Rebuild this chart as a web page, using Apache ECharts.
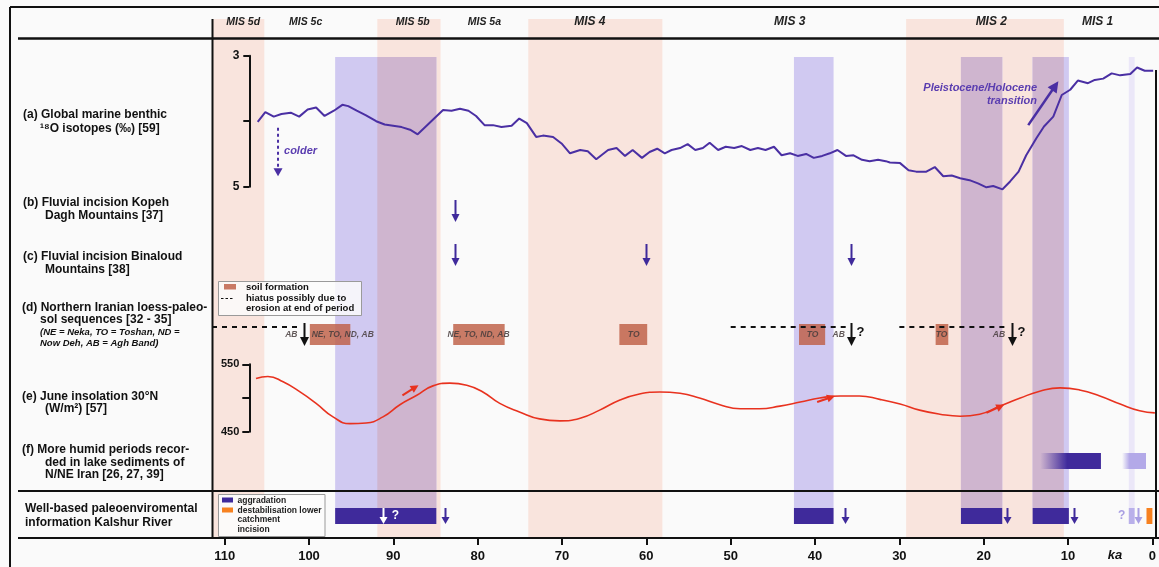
<!DOCTYPE html>
<html><head><meta charset="utf-8">
<script src="https://cdn.jsdelivr.net/npm/echarts@6/dist/echarts.min.js"></script>
<style>html,body{margin:0;padding:0;background:#fafafa}#c{width:1159px;height:567px}</style>
</head><body><div id="c"></div>
<script>
// ================= DATA (ages in ka before present) =================
const xTickValues = [0,10,20,30,40,50,60,70,80,90,100,110];
const misLabels = ['MIS 5d','MIS 5c','MIS 5b','MIS 5a','MIS 4','MIS 3','MIS 2','MIS 1'];
const misLabelKa = [107.8,100.4,87.7,79.2,66.7,43.0,19.1,6.5];
const misGlacialBands = [[111.5,105.3],[91.9,84.4],[74.0,58.1],[29.2,10.5]];
const aggradationPeriods = [[96.9,84.9],[42.5,37.8],[22.7,17.8],[14.2,9.9]];
const uncertainAggradation = [[2.8,2.1]];
const destabilisationPeriods = [[0.7,0]];
const kalshurIncisionKa = [83.9,36.4,17.2,9.3];
const kalshurIncisionInBarKa = [91.2];
const kalshurUncertainIncisionKa = [1.7];
const benthicD18O = [[106.1,4.01],[105.2,3.86],[104.2,3.93],[103.3,3.89],[102.2,3.87],[101.2,3.93],[100.2,3.82],[99.2,3.79],[98.2,3.92],[97.1,3.84],[96.1,3.75],[95.4,3.77],[94.4,3.84],[93.3,3.91],[92.1,4.00],[91.1,4.05],[90.1,4.07],[89.1,4.09],[88.1,4.13],[87.2,4.20],[84.2,3.83],[83.2,3.84],[82.2,3.81],[81.2,3.84],[80.3,3.92],[79.3,4.06],[78.3,4.06],[77.3,4.09],[76.1,4.07],[75.2,3.96],[74.3,4.03],[73.2,4.24],[72.4,4.22],[71.2,4.24],[70.2,4.34],[69.2,4.49],[68.0,4.44],[67.1,4.46],[66.1,4.58],[64.7,4.44],[63.7,4.41],[62.7,4.53],[61.8,4.44],[60.7,4.56],[59.8,4.47],[58.9,4.42],[58.0,4.49],[57.2,4.44],[56.2,4.41],[55.3,4.35],[54.4,4.44],[53.5,4.41],[52.7,4.33],[51.7,4.44],[50.8,4.39],[49.8,4.41],[48.9,4.38],[47.9,4.44],[47.0,4.41],[46.1,4.44],[45.1,4.39],[44.2,4.52],[43.2,4.49],[42.3,4.53],[41.3,4.50],[40.4,4.56],[39.4,4.53],[38.5,4.49],[37.6,4.44],[36.6,4.53],[35.7,4.52],[34.7,4.59],[33.8,4.61],[32.8,4.59],[31.9,4.61],[31.4,4.63],[30.2,4.64],[29.2,4.75],[28.3,4.77],[27.1,4.77],[26.1,4.70],[25.1,4.84],[24.1,4.83],[23.1,4.87],[22.0,4.90],[21.0,4.95],[20.0,5.01],[19.2,4.99],[18.1,5.04],[17.2,4.92],[16.2,4.77],[15.3,4.52],[14.1,4.26],[13.2,4.08],[12.1,3.93],[11.1,3.60],[10.1,3.52],[9.2,3.38],[8.0,3.42],[7.2,3.37],[6.2,3.35],[5.2,3.27],[4.2,3.30],[3.0,3.28],[2.2,3.18],[1.3,3.23],[0.3,3.23]];
const insolation30N = [[106.3,529],[104.9,532],[103.1,524],[101.1,509],[99.2,492],[97.2,472],[95.2,462],[93.3,463],[91.3,472],[89.3,490],[87.3,504],[85.4,518],[83.4,522],[81.4,519],[79.5,509],[77.5,492],[75.1,479],[72.8,469],[70.4,466],[68.0,470],[65.7,482],[63.3,497],[61.0,506],[58.6,509],[56.2,507],[53.9,500],[51.5,490],[49.1,484],[46.8,484],[44.4,488],[42.0,494],[39.7,500],[37.3,503],[35.0,503],[32.6,498],[30.2,491],[27.9,482],[25.5,476],[23.1,473],[20.8,476],[18.4,488],[16.0,500],[13.7,510],[11.3,515],[9.0,512],[6.6,503],[4.2,491],[1.9,481],[0.1,478]];
const insolationRiseArrows = [[89.0,504,87.1,519],[40.0,494,37.9,503],[20.0,478,17.9,490]];
const kopehIncisionKa = [82.7];
const binaloudIncisionKa = [82.7,60.0,35.7];
const soilPeriods = [[99.9,95.1],[82.9,76.8],[63.2,59.9],[41.9,38.8],[25.7,24.2]];
const soilLabels = ['NE, TO, ND, AB','NE, TO, ND, AB','TO','TO','TO'];
const soilLabelKa = [96.0,79.9,61.5,40.3,25.0];
const hiatusRanges = [[111.5,101.4],[50.0,36.3],[30.0,17.2]];
const hiatusArrowKa = [100.6,35.7,16.6];
const hiatusUncertain = [false,true,true];
const hiatusABKa = [102.1,37.2,18.2];
const humidLakePeriods = [[13.3,10.1,6.1],[3.6,2.7,0.76]];
const humidLakeColors = ['#3f2a9b','#b3a9e8'];

// ================= STYLE / LAYOUT =================
const FF = '"Liberation Sans", Arial, sans-serif';
const fnt = (s,w,st)=> (st||'normal')+' '+(w||'normal')+' '+s+'px '+FF;
const C = {ink:'#111', pink:'#f9e4dd', lav:'#d0c9f1', mauve:'#cfb5cf', faint:'#ebe7f8', purple:'#3f2a9b', line:'#4a2fa3', red:'#e8321f', soil:'rgba(190,95,70,0.82)', orange:'#f7811f'};
const Y = {bandTop:19, lavTop:57, bandBottom:538, aggrTop:508, aggrBottom:524, rowB:[200,222], rowC:[244,266], soil:[324,345], hiatus:327, hiatusArrow:[323,346], lake:[453,469], header:22};
const X_MAX = 111.5;
const GRID_LEFT = 212, PLOT_RIGHT = 1155.7, AXIS_X = 249.3, RIGHT = 1159 - PLOT_RIGHT;
const SUB_MAX = X_MAX * (PLOT_RIGHT - AXIS_X) / (PLOT_RIGHT - GRID_LEFT);

function xr(api,a,b){const x1=api.coord([a,0])[0],x2=api.coord([b,0])[0];return [Math.min(x1,x2),Math.abs(x2-x1)];}
function vArrow(x,y1,y2,color,sw,hw,hh){
  return {type:'group',children:[
    {type:'line',shape:{x1:x,y1:y1,x2:x,y2:y2-hh+1},style:{stroke:color,lineWidth:sw}},
    {type:'polygon',shape:{points:[[x-hw/2,y2-hh],[x+hw/2,y2-hh],[x,y2]]},style:{fill:color}}]};
}
function oArrow(p0,p1,color,sw,hw,hh,dash){
  const dx=p1[0]-p0[0],dy=p1[1]-p0[1],L=Math.hypot(dx,dy),ux=dx/L,uy=dy/L;
  const bx=p1[0]-ux*hh,by=p1[1]-uy*hh;
  return {type:'group',children:[
    {type:'line',shape:{x1:p0[0],y1:p0[1],x2:bx+ux,y2:by+uy},style:{stroke:color,lineWidth:sw,lineDash:dash||null}},
    {type:'polygon',shape:{points:[[bx-uy*hw/2,by+ux*hw/2],[bx+uy*hw/2,by-ux*hw/2],p1]},style:{fill:color}}]};
}
function txt(x,y,t,f,fill,align,va){
  return {type:'text',x:x,y:y,style:{text:t,font:f,fill:fill,align:align||'center',textAlign:align||'center',verticalAlign:va||'middle',textVerticalAlign:va||'middle'}};
}
const overlaps=[];
misGlacialBands.forEach(p=>aggradationPeriods.forEach(a=>{const hi=Math.min(p[0],a[0]),lo=Math.max(p[1],a[1]);if(hi>lo)overlaps.push([hi,lo]);}));

function bandSeries(data,y0,y1,fill,z){
  return {type:'custom',xAxisIndex:0,yAxisIndex:0,z:z,silent:true,data:data,
    renderItem:(p,api)=>{const r=xr(api,api.value(0),api.value(1));return {type:'rect',shape:{x:r[0],y:y0,width:r[1],height:y1-y0},style:{fill:fill}};}};
}
function arrowSeries(data,y0,y1,color,sw,hw,hh,z){
  return {type:'custom',xAxisIndex:0,yAxisIndex:0,z:z||5,silent:true,data:data.map(v=>[v]),
    renderItem:(p,api)=>vArrow(Math.round(api.coord([api.value(0),0])[0])+0.5,y0,y1,color,sw,hw,hh)};
}

const xHidden = i=>({gridIndex:i,type:'value',min:0,max:SUB_MAX,inverse:true,show:false});
const yPanel = (min,max,interval,inverse,hideVal,fs,tl)=>({type:'value',min:min,max:max,interval:interval,inverse:inverse,position:'left',splitLine:{show:false},
     axisLine:{show:true,onZero:false,lineStyle:{color:C.ink,width:2}},axisTick:{show:true,length:tl,lineStyle:{color:C.ink,width:2}},
     axisLabel:{formatter:v=>v===hideVal?'':String(v),fontSize:fs,fontWeight:'bold',color:C.ink,margin:10,fontFamily:FF}});
const option = {
  backgroundColor:'#fafafa', animation:false,
  grid:[{left:GRID_LEFT,right:RIGHT,top:19,bottom:29},{left:AXIS_X,right:RIGHT,top:55.7,height:131},{left:AXIS_X,right:RIGHT,top:364.3,height:67.4}],
  xAxis:[
    {gridIndex:0,type:'value',min:0,max:X_MAX,inverse:true,axisLine:{show:false},splitLine:{show:false},
     axisTick:{show:true,customValues:xTickValues,length:7,lineStyle:{color:C.ink,width:2}},
     axisLabel:{customValues:xTickValues,fontWeight:'bold',fontSize:13,color:C.ink,margin:12,fontFamily:FF}},
    xHidden(1),xHidden(2)],
  yAxis:[
    {gridIndex:0,type:'value',min:0,max:1,show:false},
    Object.assign(yPanel(3,5,1,true,4,12,6),{gridIndex:1}),
    Object.assign(yPanel(450,550,50,false,500,11,7),{gridIndex:2})],
  series:[
    bandSeries(misGlacialBands,Y.bandTop,Y.bandBottom,C.pink,0),
    bandSeries(aggradationPeriods,Y.lavTop,Y.aggrTop,C.lav,1),
    bandSeries(overlaps,Y.lavTop,Y.aggrTop,C.mauve,2),
    bandSeries(uncertainAggradation,Y.lavTop,Y.aggrTop,C.faint,1),
    {type:'custom',xAxisIndex:0,yAxisIndex:0,z:6,silent:true,data:misLabelKa.map((k,i)=>[k,i]),
     renderItem:(p,api)=>{const i=api.value(1);const big=misLabels[i].length===5;
       return txt(api.coord([api.value(0),0])[0],Y.header,misLabels[i],fnt(big?12:10.5,'bold','italic'),'#222');}},
    {type:'line',xAxisIndex:1,yAxisIndex:1,data:benthicD18O,symbol:'none',clip:false,z:8,lineStyle:{color:C.line,width:2},silent:true},
    {type:'line',xAxisIndex:2,yAxisIndex:2,data:insolation30N,symbol:'none',smooth:true,clip:false,z:8,lineStyle:{color:C.red,width:1.6},silent:true},
    {type:'custom',xAxisIndex:2,yAxisIndex:2,z:8,silent:true,data:insolationRiseArrows,
     renderItem:(p,api)=>oArrow(api.coord([api.value(0),api.value(1)]),api.coord([api.value(2),api.value(3)]),C.red,2,8,8)},
    {type:'custom',xAxisIndex:1,yAxisIndex:1,z:9,silent:true,data:[[0]],
     renderItem:(p,api)=>{const a=api.coord([103.7,4.1]),b=api.coord([103.7,4.84]);
       const c=api.coord([15.06,4.06]),d=api.coord([11.5,3.39]);
       return {type:'group',children:[
         oArrow(a,b,C.line,2,9,8,[3,3]),
         txt(a[0]+6,150.5,'colder',fnt(11,'bold','italic'),'#5a3db0','left'),
         oArrow(c,d,C.line,2.5,11,11),
         txt(1037,87.5,'Pleistocene/Holocene',fnt(11,'bold','italic'),'#5a3db0','right'),
         txt(1037,100.5,'transition',fnt(11,'bold','italic'),'#5a3db0','right')]};}},
    arrowSeries(kopehIncisionKa,Y.rowB[0],Y.rowB[1],C.purple,2,8,8),
    arrowSeries(binaloudIncisionKa,Y.rowC[0],Y.rowC[1],C.purple,2,8,8),
    {type:'custom',xAxisIndex:0,yAxisIndex:0,z:5,silent:true,data:soilPeriods.map((s,i)=>[s[0],s[1],soilLabelKa[i],i]),
     renderItem:(p,api)=>{const r=xr(api,api.value(0),api.value(1));
       return {type:'group',children:[{type:'rect',shape:{x:r[0],y:Y.soil[0],width:r[1],height:Y.soil[1]-Y.soil[0]},style:{fill:C.soil}},
         txt(api.coord([api.value(2),0])[0],335,soilLabels[api.value(3)],fnt(8.5,'bold','italic'),'rgba(70,60,60,0.85)')]};}},
    {type:'custom',xAxisIndex:0,yAxisIndex:0,z:6,silent:true,data:hiatusRanges.map((h,i)=>[h[0],h[1],hiatusArrowKa[i],hiatusABKa[i],hiatusUncertain[i]?1:0]),
     renderItem:(p,api)=>{const r=xr(api,api.value(0),api.value(1));const ax=Math.round(api.coord([api.value(2),0])[0])+0.5;
       const ch=[{type:'line',shape:{x1:r[0],y1:Y.hiatus,x2:r[0]+r[1],y2:Y.hiatus},style:{stroke:C.ink,lineWidth:2,lineDash:[5,5]}},
         vArrow(ax,Y.hiatusArrow[0],Y.hiatusArrow[1],C.ink,2,9,9),
         txt(api.coord([api.value(3),0])[0],335,'AB',fnt(8.5,'bold','italic'),'rgba(70,60,60,0.85)')];
       if(api.value(4))ch.push(txt(ax+9,332,'?',fnt(13,'bold'),C.ink));
       return {type:'group',children:ch};}},
    {type:'custom',xAxisIndex:0,yAxisIndex:0,z:5,silent:true,data:humidLakePeriods.map((h,i)=>[h[0],h[1],h[2],i]),
     renderItem:(p,api)=>{const x0=api.coord([api.value(0),0])[0],x1=api.coord([api.value(1),0])[0],x2=api.coord([api.value(2),0])[0];
       const col=humidLakeColors[api.value(3)];const f=(x1-x0)/(x2-x0);
       const g=new echarts.graphic.LinearGradient(x0,0,x2,0,[{offset:0,color:echarts.color.modifyAlpha(col,0)},{offset:f,color:col},{offset:1,color:col}],true);
       return {type:'rect',shape:{x:x0,y:Y.lake[0],width:x2-x0,height:Y.lake[1]-Y.lake[0]},style:{fill:g}};}},
    bandSeries(aggradationPeriods,Y.aggrTop,Y.aggrBottom,C.purple,5),
    bandSeries(uncertainAggradation,Y.aggrTop,Y.aggrBottom,'#b9b0ea',5),
    bandSeries(destabilisationPeriods,Y.aggrTop,Y.aggrBottom,C.orange,5),
    arrowSeries(kalshurIncisionKa,Y.aggrTop,Y.aggrBottom,C.purple,2,8,7,6),
    arrowSeries(kalshurUncertainIncisionKa,Y.aggrTop,Y.aggrBottom,'#a99fe3',2,8,7,6),
    {type:'custom',xAxisIndex:0,yAxisIndex:0,z:6,silent:true,data:kalshurIncisionInBarKa.map(v=>[v]),
     renderItem:(p,api)=>{const x=Math.round(api.coord([api.value(0),0])[0])+0.5;
       return {type:'group',children:[vArrow(x,Y.aggrTop,Y.aggrBottom,'#fff',2,8,7),txt(x+12,516,'?',fnt(12,'bold'),'#fff')]};}},
    {type:'custom',xAxisIndex:0,yAxisIndex:0,z:6,silent:true,data:uncertainAggradation.map(v=>[v[0]]),
     renderItem:(p,api)=>txt(api.coord([api.value(0),0])[0]-7,516,'?',fnt(12,'bold'),'#a99fe3')}
  ],
  graphic:[
    {type:'line',z:50,shape:{x1:10,y1:7,x2:1159,y2:7},style:{stroke:C.ink,lineWidth:2}},
    {type:'line',z:50,shape:{x1:10,y1:7,x2:10,y2:567},style:{stroke:C.ink,lineWidth:2}},
    {type:'line',z:50,shape:{x1:18,y1:38.5,x2:1159,y2:38.5},style:{stroke:C.ink,lineWidth:2.5}},
    {type:'line',z:50,shape:{x1:18,y1:491,x2:1159,y2:491},style:{stroke:C.ink,lineWidth:2}},
    {type:'line',z:50,shape:{x1:18,y1:538,x2:1159,y2:538},style:{stroke:C.ink,lineWidth:2}},
    {type:'line',z:50,shape:{x1:212.5,y1:19,x2:212.5,y2:538},style:{stroke:C.ink,lineWidth:2}},
    {type:'line',z:50,shape:{x1:1156,y1:70,x2:1156,y2:538},style:{stroke:C.ink,lineWidth:2}},
    ...[
      ['(a) Global marine benthic',23,115],['\u00b9\u2078O isotopes (\u2030) [59]',40,128.5],
      ['(b) Fluvial incision Kopeh',23,202.5],['Dagh Mountains [37]',45,216],
      ['(c) Fluvial incision Binaloud',23,256.5],['Mountains [38]',45,270],
      ['(d) Northern Iranian loess-paleo-',22,307.5],['sol sequences [32 - 35]',40,320],
      ['(e) June insolation 30\u00b0N',22,396.5],['(W/m\u00b2) [57]',45,409],
      ['(f) More humid periods recor-',22,450],['ded in lake sediments of',45,462.5],['N/NE Iran [26, 27, 39]',45,475],
      ['Well-based paleoenviromental',25,509],['information Kalshur River',25,522.5]
    ].map(a=>Object.assign(txt(a[1],a[2],a[0],fnt(12,'bold'),C.ink,'left'),{z:50})),
    Object.assign(txt(40,332.5,'(NE = Neka, TO = Toshan, ND =',fnt(9.5,'bold','italic'),C.ink,'left'),{z:50}),
    Object.assign(txt(40,343,'Now Deh, AB = Agh Band)',fnt(9.5,'bold','italic'),C.ink,'left'),{z:50}),
    Object.assign(txt(1115,555.5,'ka',fnt(13,'bold','italic'),C.ink,'center'),{z:50}),
    {type:'rect',z:40,shape:{x:218.5,y:281.5,width:143,height:34},style:{fill:'rgba(252,252,252,0.85)',stroke:'#9a9a9a',lineWidth:1}},
    {type:'rect',z:41,shape:{x:224,y:284,width:12,height:5.5},style:{fill:'#c97a66'}},
    Object.assign(txt(246,287,'soil formation',fnt(9.5,'bold'),C.ink,'left'),{z:41}),
    {type:'line',z:41,shape:{x1:221,y1:298.5,x2:234,y2:298.5},style:{stroke:C.ink,lineWidth:1.2,lineDash:[2.5,2]}},
    Object.assign(vArrow(237.5,293,305,C.ink,1.2,5,5),{z:41}),
    Object.assign(txt(246,298.5,'hiatus possibly due to',fnt(9.5,'bold'),C.ink,'left'),{z:41}),
    Object.assign(txt(246,308.5,'erosion at end of period',fnt(9.5,'bold'),C.ink,'left'),{z:41}),
    {type:'rect',z:40,shape:{x:218.5,y:494.5,width:106.5,height:42},style:{fill:'rgba(252,252,252,0.9)',stroke:'#9a9a9a',lineWidth:1}},
    {type:'rect',z:41,shape:{x:222,y:497.5,width:11,height:5},style:{fill:C.purple}},
    {type:'rect',z:41,shape:{x:222,y:507.5,width:11,height:5},style:{fill:C.orange}},
    Object.assign(vArrow(228.5,525,533.5,C.purple,1.5,5,4.5),{z:41}),
    ...[['aggradation',500.5],['destabilisation lower',510.5],['catchment',520],['incision',529.5]].map(a=>Object.assign(txt(237.5,a[1],a[0],fnt(8.5,'bold'),'#222','left'),{z:41}))
  ]
};
const chart = echarts.init(document.getElementById('c'),null,{renderer:'canvas'});
chart.setOption(option);
</script></body></html>
